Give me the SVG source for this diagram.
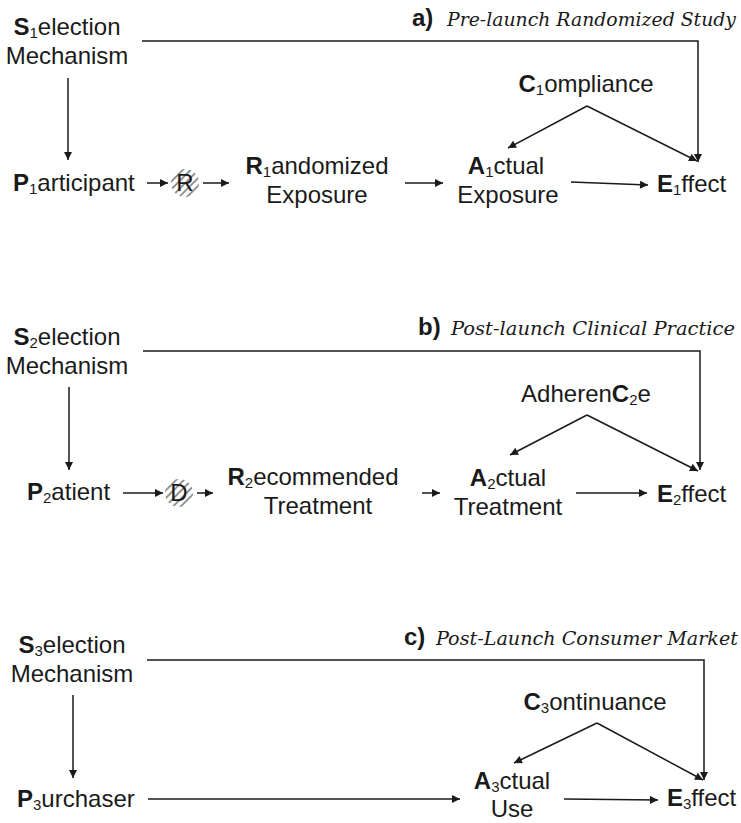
<svg xmlns="http://www.w3.org/2000/svg" width="741" height="823" viewBox="0 0 741 823">
<defs>
<marker id="arr" viewBox="0 0 10 10" refX="10" refY="5" markerWidth="10" markerHeight="8" markerUnits="userSpaceOnUse" orient="auto">
<path d="M0,0 L10,5 L0,10 z" fill="#1a1a1a"/>
</marker>
<pattern id="hatch" patternUnits="userSpaceOnUse" width="5.5" height="5.5" patternTransform="rotate(45)">
<line x1="2" y1="0" x2="2" y2="5.5" stroke="#808080" stroke-width="1.7"/>
</pattern>
<style>
text{font-family:"Liberation Sans",Arial,sans-serif;font-size:24px;fill:#1a1a1a}
.b{font-weight:bold}
.s{font-size:15px}
.t{font-family:"DejaVu Serif","Liberation Serif",serif;font-style:italic;font-size:18.5px}
.m{text-anchor:middle}
.c line,.c polyline{stroke:#1a1a1a;stroke-width:1.5;fill:none;marker-end:url(#arr)}
</style>
</defs>
<rect width="741" height="823" fill="#fff"/>

<g id="panel-a">
<g id="a-label"><text x="412" y="26" class="b">a)</text><text x="447" y="26" class="t" textLength="289" lengthAdjust="spacingAndGlyphs">Pre-launch Randomized Study</text></g>
<g id="S1"><text x="67" y="35" class="m"><tspan class="b">S</tspan><tspan class="s" dy="3">1</tspan><tspan dy="-3">election</tspan></text><text x="67" y="64" class="m">Mechanism</text></g>
<g id="P1"><text x="13" y="191"><tspan class="b">P</tspan><tspan class="s" dy="3">1</tspan><tspan dy="-3">articipant</tspan></text></g>
<g id="Rnode"><circle cx="185" cy="183" r="14" fill="url(#hatch)"/><text x="185" y="191" class="m">R</text></g>
<g id="R1"><text x="317" y="174" class="m"><tspan class="b">R</tspan><tspan class="s" dy="3">1</tspan><tspan dy="-3">andomized</tspan></text><text x="317" y="203" class="m">Exposure</text></g>
<g id="A1"><text x="506" y="174" class="m"><tspan class="b">A</tspan><tspan class="s" dy="3">1</tspan><tspan dy="-3">ctual</tspan></text><text x="508" y="203" class="m">Exposure</text></g>
<g id="C1"><text x="586" y="92" class="m"><tspan class="b">C</tspan><tspan class="s" dy="3">1</tspan><tspan dy="-3">ompliance</tspan></text></g>
<g id="E1"><text x="657" y="192"><tspan class="b">E</tspan><tspan class="s" dy="3">1</tspan><tspan dy="-3">ffect</tspan></text></g>
</g>

<g id="panel-b">
<g id="b-label"><text x="418" y="335" class="b">b)</text><text x="451" y="335" class="t" textLength="284" lengthAdjust="spacingAndGlyphs">Post-launch Clinical Practice</text></g>
<g id="S2"><text x="67" y="345" class="m"><tspan class="b">S</tspan><tspan class="s" dy="3">2</tspan><tspan dy="-3">election</tspan></text><text x="67" y="374" class="m">Mechanism</text></g>
<g id="P2"><text x="27" y="500"><tspan class="b">P</tspan><tspan class="s" dy="3">2</tspan><tspan dy="-3">atient</tspan></text></g>
<g id="Dnode"><circle cx="179" cy="493" r="14" fill="url(#hatch)"/><text x="179" y="501" class="m">D</text></g>
<g id="R2"><text x="313" y="485" class="m"><tspan class="b">R</tspan><tspan class="s" dy="3">2</tspan><tspan dy="-3">ecommended</tspan></text><text x="318" y="514" class="m">Treatment</text></g>
<g id="A2"><text x="508" y="486" class="m"><tspan class="b">A</tspan><tspan class="s" dy="3">2</tspan><tspan dy="-3">ctual</tspan></text><text x="508" y="515" class="m">Treatment</text></g>
<g id="C2"><text x="586" y="402" class="m"><tspan>Adheren</tspan><tspan class="b">C</tspan><tspan class="s" dy="3">2</tspan><tspan dy="-3">e</tspan></text></g>
<g id="E2"><text x="657" y="502"><tspan class="b">E</tspan><tspan class="s" dy="3">2</tspan><tspan dy="-3">ffect</tspan></text></g>
</g>

<g id="panel-c">
<g id="c-label"><text x="404" y="645" class="b">c)</text><text x="436" y="645" class="t" textLength="302" lengthAdjust="spacingAndGlyphs">Post-Launch Consumer Market</text></g>
<g id="S3"><text x="72" y="653" class="m"><tspan class="b">S</tspan><tspan class="s" dy="3">3</tspan><tspan dy="-3">election</tspan></text><text x="72" y="682" class="m">Mechanism</text></g>
<g id="P3"><text x="17" y="807"><tspan class="b">P</tspan><tspan class="s" dy="3">3</tspan><tspan dy="-3">urchaser</tspan></text></g>
<g id="A3"><text x="512" y="789" class="m"><tspan class="b">A</tspan><tspan class="s" dy="3">3</tspan><tspan dy="-3">ctual</tspan></text><text x="512" y="817" class="m">Use</text></g>
<g id="C3"><text x="595" y="710" class="m"><tspan class="b">C</tspan><tspan class="s" dy="3">3</tspan><tspan dy="-3">ontinuance</tspan></text></g>
<g id="E3"><text x="667" y="806"><tspan class="b">E</tspan><tspan class="s" dy="3">3</tspan><tspan dy="-3">ffect</tspan></text></g>
</g>

<g id="connectors" class="c">
<polyline points="142,41 698,41 698,162"/>
<line x1="68" y1="78" x2="68" y2="160"/>
<line x1="147" y1="183" x2="168" y2="183"/>
<line x1="203" y1="183" x2="229" y2="183"/>
<line x1="405" y1="183" x2="443" y2="183"/>
<line x1="571" y1="182" x2="648" y2="185"/>
<line x1="587" y1="106" x2="508" y2="148"/>
<line x1="587" y1="106" x2="697" y2="161"/>

<polyline points="143,351 700,351 700,470"/>
<line x1="69" y1="387" x2="69" y2="470"/>
<line x1="123" y1="493" x2="163" y2="493"/>
<line x1="197" y1="493" x2="213" y2="493"/>
<line x1="422" y1="493" x2="440" y2="493"/>
<line x1="576" y1="493" x2="647" y2="493"/>
<line x1="587" y1="415" x2="510" y2="455"/>
<line x1="587" y1="415" x2="698" y2="471"/>

<polyline points="147,660 704,660 704,780"/>
<line x1="73" y1="695" x2="73" y2="778"/>
<line x1="148" y1="799" x2="460" y2="799"/>
<line x1="564" y1="799" x2="658" y2="800"/>
<line x1="597" y1="723" x2="514" y2="763"/>
<line x1="597" y1="723" x2="703" y2="780"/>
</g>
</svg>
